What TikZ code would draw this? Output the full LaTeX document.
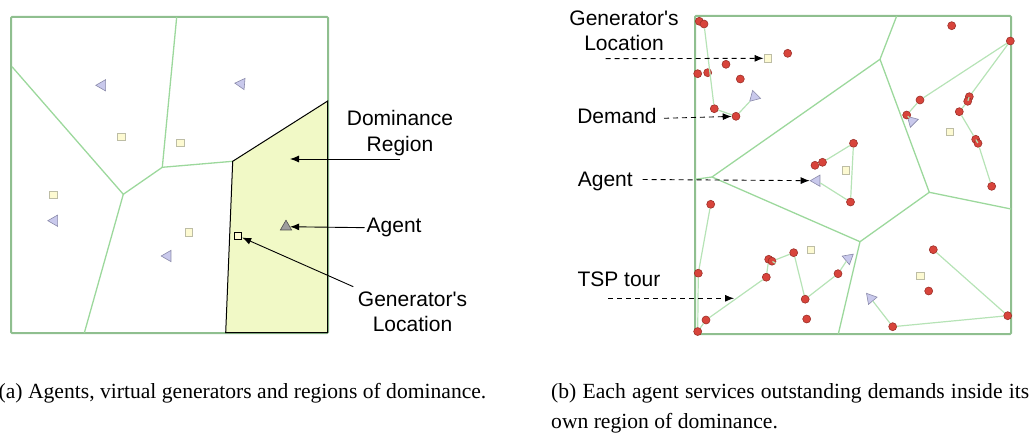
\documentclass[tikz,border=0pt]{standalone}
\usepackage{fontspec}
\setmainfont{Liberation Serif}
\setsansfont{Liberation Sans}
\usetikzlibrary{arrows.meta,shapes.geometric}
\definecolor{framegreen}{HTML}{8FBF8F}
\definecolor{vorgreen}{HTML}{9CD89C}
\definecolor{tourgreen}{HTML}{B6E3B6}
\definecolor{domfill}{HTML}{F1F9C6}
\definecolor{agentfill}{HTML}{C9C9EC}
\definecolor{agentedge}{HTML}{8A8AAA}
\definecolor{genfill}{HTML}{FDFAD2}
\definecolor{genedge}{HTML}{BDBDA5}
\definecolor{demfill}{HTML}{D8443B}
\definecolor{demedge}{HTML}{9C3029}
\tikzset{
  frame/.style={draw=framegreen, line width=2pt, rounded corners=1pt},
  vor/.style={draw=vorgreen, line width=1.3pt},
  tour/.style={draw=tourgreen, line width=1.2pt},
  domregion/.style={fill=domfill, draw=black, line width=1pt},
  agent/.style={regular polygon, regular polygon sides=3, draw=agentedge, fill=agentfill, minimum size=13pt, inner sep=0pt, line width=0.6pt},
  gagent/.style={agent, fill=black!38, draw=black!70},
  gen/.style={rectangle, draw=genedge, fill=genfill, minimum size=7.5pt, inner sep=0pt, line width=0.7pt},
  bgen/.style={gen, draw=black, line width=0.8pt},
  dem/.style={circle, draw=demedge, fill=demfill, minimum size=8pt, inner sep=0pt, line width=0.6pt},
  lbl/.style={font=\sffamily\fontsize{21}{25.5}\selectfont, align=center, inner sep=2pt},
  arr/.style={-{Latex[length=9pt,width=7pt]}, line width=0.9pt},
  darr/.style={arr, dash pattern=on 5pt off 4pt},
  captext/.style={font=\fontsize{21.6}{29.5}\selectfont, inner sep=0pt}
}
\begin{document}
\begin{tikzpicture}[x=1pt,y=-1pt]
\useasboundingbox (0,0) rectangle (1029,436);

% ===================== Left panel =====================
\draw[frame] (11,17) rectangle (328,333);
\coordinate (LA) at (123.3,194.3);
\coordinate (LB) at (162.3,167.3);
\coordinate (LC) at (232.7,161.3);
\coordinate (LW) at (12,66.7);
\coordinate (LT) at (176.7,17);
\coordinate (LS) at (84.3,333);
\draw[vor] (LW) -- (LA) -- (LB) -- (LT);
\draw[vor] (LA) -- (LS);
\draw[vor] (LB) -- (LC);
\draw[domregion] (LC) -- (327.7,101) -- (327.7,332.5) -- (225.7,332.7) -- cycle;

\node[agent, rotate=90]   (la1) at (102.3,85.3) {};
\node[agent, rotate=-155] (la2) at (241.3,83.7) {};
\node[agent, rotate=-30]  (la3) at (54.3,220.7) {};
\node[agent, rotate=90]   (la4) at (167.7,256) {};
\node[gagent]             (ga)  at (286,226.7) {};

\node[gen] (lg1) at (121.3,136.7) {};
\node[gen] (lg2) at (180.3,142.7) {};
\node[gen] (lg3) at (53.3,195) {};
\node[gen] (lg4) at (189,232.3) {};
\node[bgen] (lg5) at (238,235.7) {};

\node[lbl, anchor=base] (ldom) at (400,151) {Dominance\\Region};
\node[lbl, anchor=base west] (lag) at (364.5,232.7) {Agent};
\node[lbl, anchor=base] (lgen) at (412.5,331.5) {Generator\textquotesingle s\\Location};
\coordinate (domstart) at (400,159);
\coordinate (domend) at (290,159);
\coordinate (genstart) at (353.3,286.7);
\draw[arr] (domstart) -- (domend);
\draw[arr] (lag.west) -- (ga);
\draw[arr] (genstart) -- (lg5);

% ===================== Right panel =====================
\draw[frame] (695,16) rectangle (1011,334);
\coordinate (RP) at (880,59.3);
\coordinate (RT) at (896.7,16);
\coordinate (RQ) at (712,177);
\coordinate (RW) at (695,179.3);
\coordinate (RR) at (860,241.7);
\coordinate (RB) at (838.3,334);
\coordinate (RS) at (929.3,192.3);
\coordinate (RE) at (1011,209);
\draw[vor] (RT) -- (RP) -- (RQ) -- (RW);
\draw[vor] (RQ) -- (RR) -- (RB);
\draw[vor] (RR) -- (RS) -- (RE);
\draw[vor] (RS) -- (RP);

% agents
\node[agent, rotate=135]  (ra1) at (754.3,96.7) {};
\node[agent, rotate=45]   (ra2) at (912,121) {};
\node[agent, rotate=90]   (ra3) at (816.7,180.7) {};
\node[agent, rotate=-50]  (ra4) at (848.3,258.3) {};
\node[agent, rotate=40]   (ra5) at (870.7,298.3) {};

% generators
\node[gen] (rg1) at (767.7,58.3) {};
\node[gen] (rg2) at (950,131.7) {};
\node[gen] (rg3) at (845.7,170.3) {};
\node[gen] (rg4) at (811,250) {};
\node[gen] (rg5) at (920.3,275.7) {};

% demands
\node[dem] (d1) at (699.3,21.3) {};
\node[dem] (d2) at (704,24) {};
\node[dem] (d3) at (787.7,53.3) {};
\node[dem] (d4) at (726,64.3) {};
\node[dem] (d5) at (697.7,73.7) {};
\node[dem] (d6) at (707.7,72.7) {};
\node[dem] (d7) at (740.3,79) {};
\node[dem] (d8) at (714.3,108.7) {};
\node[dem] (d9) at (736,116.3) {};

\node[dem] (e1) at (951.7,25.7) {};
\node[dem] (e2) at (1010.3,41) {};
\node[dem] (e3) at (920,100) {};
\node[dem] (e4) at (906.7,115) {};
\node[dem] (e5) at (969.3,96.7) {};
\node[dem] (e6) at (967.7,101.3) {};
\node[dem] (e7) at (959.3,111.7) {};
\node[dem] (e8) at (975.7,139.3) {};
\node[dem] (e9) at (978,143.3) {};
\node[dem] (e10) at (991.7,186.3) {};

\node[dem] (f1) at (853.5,143.3) {};
\node[dem] (f2) at (822.5,162.3) {};
\node[dem] (f3) at (815,165.3) {};
\node[dem] (f4) at (850.5,202) {};

\node[dem] (g1) at (710.7,204.3) {};
\node[dem] (g2) at (698.3,273.2) {};
\node[dem] (g3) at (706,320) {};
\node[dem] (g4) at (697.7,331.5) {};
\node[dem] (g5) at (766.3,277.2) {};
\node[dem] (g6) at (768.7,259.3) {};
\node[dem] (g7) at (772,261.2) {};
\node[dem] (g8) at (793.7,252.7) {};
\node[dem] (g9) at (805.2,299.2) {};
\node[dem] (g10) at (838,273.7) {};
\node[dem] (g11) at (806.7,319) {};

\node[dem] (h2) at (933.3,249.7) {};
\node[dem] (h3) at (928.7,291) {};
\node[dem] (h4) at (1007.7,315.7) {};
\node[dem] (h5) at (892.7,326.7) {};

% tours
\draw[tour] (ra1) -- (d9) -- (d8) -- (d2);
\draw[tour] (ra2) -- (e4) -- (e3) -- (e2) -- (e5) -- (e6) -- (e7) -- (e8) -- (e9) -- (e10);
\draw[tour] (ra3) -- (f4) -- (f1) -- (f2) -- (f3);
\draw[tour] (ra4) -- (g10) -- (g9) -- (g8) -- (g7) -- (g6) -- (g5) -- (g3) -- (g4) -- (g2) -- (g1);
\draw[tour] (ra5) -- (h5) -- (h4) -- (h2);

% labels
\node[lbl, anchor=base] (rgen) at (624,50.7) {Generator\textquotesingle s\\Location};
\node[lbl, anchor=base] (rdem) at (617,124) {Demand};
\node[lbl, anchor=base] (rag) at (605.3,186) {Agent};
\node[lbl, anchor=base] (rtsp) at (619,286.7) {TSP tour};
\coordinate (rgenstart) at (605.7,58.7);
\coordinate (rdemstart) at (664,118.3);
\coordinate (ragstart) at (642.7,179.5);
\coordinate (tspstart) at (608.3,298.3);
\coordinate (tspend) at (734,298.3);
\draw[darr] (rgenstart) -- (rg1);
\draw[darr] (rdemstart) -- (d9);
\draw[darr] (ragstart) -- (ra3);
\draw[darr] (tspstart) -- (tspend);

% captions
\node[captext, anchor=base west] (capa) at (-1.5,398.3) {(a) Agents, virtual generators and regions of dominance.};
\node[captext, anchor=base west, align=left] (capb) at (551,428.3) {\makebox[478pt][s]{(b) Each agent services outstanding demands inside its}\\own region of dominance.};
\end{tikzpicture}
\end{document}
